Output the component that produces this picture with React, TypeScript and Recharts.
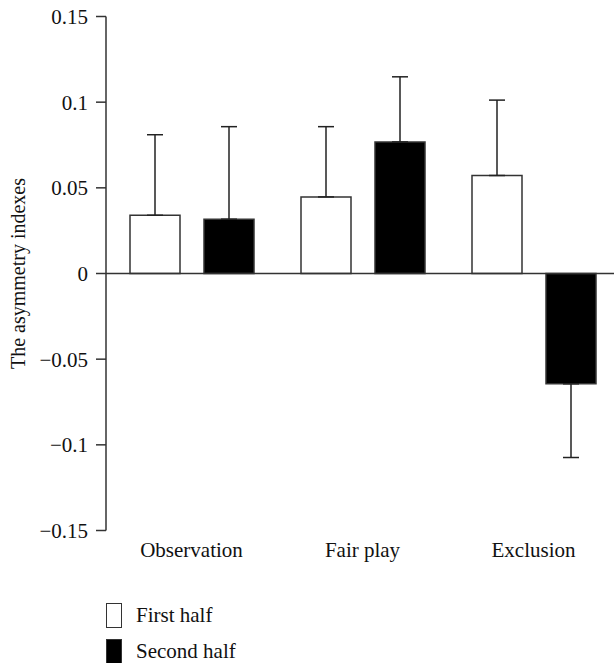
import { BarChart, Bar, XAxis, YAxis, ErrorBar, ReferenceLine, Legend } from "recharts";

const categories = ["Observation", "Fair play", "Exclusion"];
const firstHalf = [0.034, 0.0447, 0.0572];
const secondHalf = [0.0317, 0.0768, -0.0644];
// error bars are one-sided: [below, above]
const firstHalfErr: [number, number][] = [[0, 0.047], [0, 0.041], [0, 0.044]];
const secondHalfErr: [number, number][] = [[0, 0.054], [0, 0.038], [0.043, 0]];
const yTicks = [-0.15, -0.1, -0.05, 0, 0.05, 0.1, 0.15];

const data = categories.map((category, i) => ({
  category,
  first: firstHalf[i],
  second: secondHalf[i],
  firstErr: firstHalfErr[i],
  secondErr: secondHalfErr[i],
}));

const font = '"Liberation Serif", "DejaVu Serif", serif';

const formatTick = (v: number) => (v < 0 ? "\u2212" + String(Math.abs(v)) : String(v));

function LegendBox() {
  const row = (label: string, fill: string) => (
    <div style={{ display: "flex", alignItems: "center", height: 36 }}>
      <div
        style={{
          width: 14,
          height: 23,
          background: fill,
          border: "1.5px solid #333",
          marginRight: 14,
        }}
      />
      <span style={{ fontSize: 21, lineHeight: "20px", color: "#111", fontFamily: font }}>{label}</span>
    </div>
  );
  return (
    <div>
      {row("First half", "#fff")}
      {row("Second half", "#000")}
    </div>
  );
}

export default function App() {
  return (
    <div style={{ position: "absolute", left: 0, top: 0, width: 614, height: 663, background: "#fff" }}>
      <BarChart
        width={614}
        height={663}
        data={data}
        margin={{ top: 16.5, right: -5, left: 0, bottom: 92.5 }}
        barSize={50}
        barGap={24}
        barCategoryGap={24}
      >
        <XAxis
          dataKey="category"
          axisLine={false}
          tickLine={false}
          tickSize={0}
          tickMargin={12}
          height={40}
          tick={{ fontSize: 21, fill: "#111", fontFamily: font }}
        />
        <YAxis
          domain={[-0.15, 0.15]}
          ticks={yTicks}
          width={106}
          tickSize={10}
          tickMargin={8}
          tickFormatter={formatTick}
          stroke="#333"
          axisLine={{ stroke: "#333", strokeWidth: 1.5 }}
          tickLine={{ stroke: "#333", strokeWidth: 1.5 }}
          tick={{ fontSize: 21, fill: "#111", fontFamily: font }}
          label={{
            value: "The asymmetry indexes",
            angle: -90,
            position: "insideLeft",
            offset: 18,
            style: { textAnchor: "middle", fontSize: 20, fill: "#111", fontFamily: font },
          }}
        />
        <ReferenceLine y={0} stroke="#333" strokeWidth={1.5} />
        <Legend
          layout="vertical"
          align="center"
          verticalAlign="middle"
          wrapperStyle={{ left: 106, top: 597, width: 300 }}
          content={() => <LegendBox />}
        />
        <Bar dataKey="first" name="First half" fill="#fff" stroke="#333" strokeWidth={1.5} isAnimationActive={false}>
          <ErrorBar dataKey="firstErr" direction="y" width={8} stroke="#222" strokeWidth={1.5} isAnimationActive={false} />
        </Bar>
        <Bar dataKey="second" name="Second half" fill="#000" stroke="#333" strokeWidth={1.5} isAnimationActive={false}>
          <ErrorBar dataKey="secondErr" direction="y" width={8} stroke="#222" strokeWidth={1.5} isAnimationActive={false} />
        </Bar>
      </BarChart>
    </div>
  );
}
